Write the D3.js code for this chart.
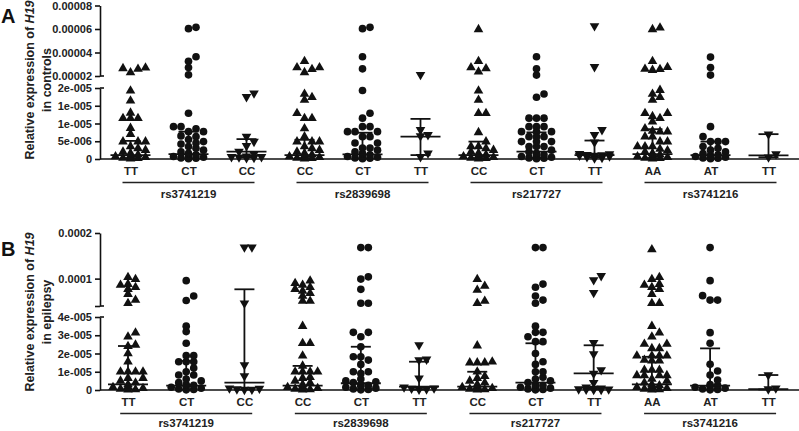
<!DOCTYPE html>
<html><head><meta charset="utf-8">
<script src="https://cdn.jsdelivr.net/npm/d3@7"></script>
<style>
body{margin:0;background:#fff}
svg{display:block;font-family:"Liberation Sans",Arial,sans-serif}
</style>
</head><body>
<svg id="chart" width="799" height="431"></svg>
<script>
// ---------------- DATA ----------------
const genotypes = ["TT","CT","CC","CC","CT","TT","CC","CT","TT","AA","AT","TT"];
const snps = ["rs3741219","rs2839698","rs217727","rs3741216"];
const shapes = ["up","circle","down","up","circle","down","up","circle","down","up","circle","down"];

// Relative expression of H19 in controls (panel A)
const controlsValues = [
  [26e-6,23e-6,27e-6,26.5e-6,19.2e-6,16.4e-6,13e-6,11.5e-6,11.5e-6,11.5e-6,8.7e-6,7e-6,4.9e-6,4.9e-6,4.9e-6,3.5e-6,3e-6,2.5e-6,2e-6,1.6e-6,1.2e-6,1e-6,0.7e-6,0.5e-6,0.3e-6,0.2e-6,0.1e-6],
  [60.3e-6,61.4e-6,36.4e-6,32.5e-6,27.2e-6,21e-6,12.9e-6,9.1e-6,9.1e-6,8.5e-6,7.7e-6,7.7e-6,6.5e-6,6.3e-6,5.5e-6,4.9e-6,4.5e-6,4.2e-6,3.5e-6,3e-6,2.5e-6,2e-6,1.6e-6,1.2e-6,1e-6,0.7e-6,0.5e-6,0.3e-6,0.2e-6,0.1e-6],
  [18.5e-6,17.5e-6,6.3e-6,4.9e-6,3.7e-6,2.1e-6,1.4e-6,0.8e-6,0.6e-6,0.6e-6,0.5e-6,0.4e-6,0.3e-6],
  [32.5e-6,25.8e-6,27.2e-6,23.1e-6,27.2e-6,18.3e-6,17.4e-6,16.6e-6,12.9e-6,11.5e-6,11.5e-6,8.6e-6,6.3e-6,4.9e-6,4.9e-6,4.9e-6,3.5e-6,3e-6,2.5e-6,2e-6,1.6e-6,1.2e-6,1e-6,0.7e-6,0.5e-6,0.3e-6,0.2e-6,0.1e-6],
  [61.4e-6,60.3e-6,36.4e-6,26.1e-6,19.3e-6,12.9e-6,11.5e-6,9.1e-6,9.1e-6,7.7e-6,7.7e-6,7.7e-6,6.3e-6,6.3e-6,4.5e-6,4.5e-6,3.1e-6,3.1e-6,2.5e-6,2e-6,1.6e-6,1.2e-6,1e-6,0.7e-6,0.5e-6,0.3e-6,0.2e-6,0.1e-6],
  [21e-6,8.2e-6,6.8e-6,6.5e-6,1.6e-6,0.6e-6],
  [59.7e-6,32.5e-6,27.2e-6,23.6e-6,26.4e-6,19.2e-6,16.6e-6,12.9e-6,12.9e-6,7.5e-6,4.9e-6,3.5e-6,3.5e-6,3e-6,2.5e-6,2e-6,1.6e-6,1.2e-6,1e-6,0.7e-6,0.5e-6,0.3e-6,0.2e-6,0.1e-6],
  [36.4e-6,26.1e-6,20.8e-6,17.4e-6,18.3e-6,11.5e-6,11.5e-6,11.5e-6,9.1e-6,9.1e-6,9.1e-6,7.7e-6,7.7e-6,7.7e-6,6.3e-6,6.3e-6,6.3e-6,4.9e-6,4.9e-6,4.9e-6,3.5e-6,3.5e-6,3.5e-6,2.5e-6,2e-6,1.6e-6,1.2e-6,1e-6,0.7e-6,0.5e-6,0.3e-6,0.2e-6,0.1e-6],
  [62.5e-6,27.8e-6,8.2e-6,6.8e-6,4.7e-6,1.5e-6,1.4e-6,1.2e-6,1.1e-6,1e-6,1e-6,0.8e-6,0.6e-6,0.4e-6,0.2e-6],
  [61e-6,59.7e-6,32.5e-6,26e-6,27.5e-6,25e-6,25.8e-6,19.4e-6,17.4e-6,18.3e-6,16.6e-6,11.5e-6,12e-6,12.9e-6,12.9e-6,10.5e-6,8.6e-6,7.7e-6,7.9e-6,7.7e-6,6.3e-6,6.3e-6,4.9e-6,4.9e-6,3.5e-6,3.5e-6,3.5e-6,2.8e-6,2.4e-6,2e-6,1.6e-6,1.2e-6,1e-6,0.7e-6,0.5e-6,0.3e-6,0.2e-6,0.1e-6],
  [36.1e-6,27.2e-6,20.8e-6,9.1e-6,6.3e-6,4.9e-6,4.9e-6,4.9e-6,3.5e-6,3e-6,2.5e-6,2e-6,1.5e-6,1.2e-6,1e-6,0.7e-6,0.5e-6,0.3e-6,0.2e-6,0.1e-6],
  [7e-6,1.4e-6,0.5e-6]
];
const controlsMedian = [1.1e-6,1.4e-6,2.1e-6,1.1e-6,1.3e-6,6.3e-6,1.1e-6,2.1e-6,1.1e-6,1.4e-6,1.1e-6,1.0e-6];
const controlsQ3     = [5.1e-6,7.7e-6,5.6e-6,5.4e-6,7.4e-6,11.3e-6,4.9e-6,7.5e-6,5.2e-6,8.4e-6,4.9e-6,7.0e-6];
const controlsQ1     = [0.2e-6,0.2e-6,0.5e-6,0.2e-6,0.2e-6,1.1e-6,0.2e-6,0.3e-6,0.4e-6,0.2e-6,0.2e-6,0.5e-6];

// Relative expression of H19 in epilepsy (panel B)
const epilepsyValues = [
  [98.5e-6,103e-6,88e-6,86e-6,81e-6,77e-6,66e-6,53e-6,46e-6,31.4e-6,29.2e-6,24.7e-6,24e-6,20e-6,15.5e-6,10e-6,10e-6,10e-6,10e-6,6.5e-6,6.5e-6,5e-6,4e-6,3e-6,2e-6,1.5e-6,1e-6,0.6e-6,0.3e-6,0.1e-6],
  [95.5e-6,62e-6,52e-6,35e-6,32e-6,25.6e-6,18.8e-6,18.8e-6,15.5e-6,15.5e-6,15.5e-6,12e-6,10e-6,8.2e-6,8.2e-6,6e-6,5e-6,4e-6,3e-6,2.5e-6,2e-6,1.5e-6,1e-6,0.6e-6,0.3e-6,0.1e-6],
  [168.7e-6,168.7e-6,46e-6,13.7e-6,7.7e-6,1e-6,0.8e-6,0.5e-6,0.3e-6,0.2e-6],
  [95.5e-6,89.7e-6,86e-6,81e-6,77e-6,73e-6,68e-6,62e-6,51e-6,51e-6,35e-6,25.6e-6,25.6e-6,18.8e-6,13.2e-6,10e-6,10e-6,10e-6,10e-6,7e-6,6.5e-6,5e-6,4e-6,3e-6,2e-6,1.5e-6,1e-6,0.6e-6,0.3e-6,0.1e-6],
  [168e-6,168e-6,104e-6,99e-6,76.6e-6,46e-6,46e-6,31.6e-6,31.6e-6,29.2e-6,23.7e-6,18.2e-6,18.2e-6,16.4e-6,14e-6,10e-6,10e-6,9e-6,6e-6,5e-6,4.5e-6,4e-6,3e-6,2.5e-6,2e-6,1.5e-6,1e-6,0.6e-6,0.3e-6,0.1e-6],
  [24.7e-6,16.8e-6,16.4e-6,6.4e-6,1.5e-6,1e-6,0.8e-6,0.5e-6,0.3e-6],
  [98.5e-6,84e-6,75e-6,46e-6,51e-6,24.3e-6,15e-6,15e-6,15.5e-6,15e-6,10e-6,6.5e-6,7.5e-6,5e-6,4e-6,3e-6,2e-6,1.5e-6,1e-6,0.6e-6,0.3e-6,0.1e-6],
  [168e-6,168e-6,88e-6,81e-6,62e-6,46e-6,53e-6,35e-6,31.6e-6,31.6e-6,29.2e-6,26.5e-6,26.5e-6,20e-6,15.5e-6,14e-6,10e-6,10e-6,7e-6,6e-6,5e-6,4e-6,3e-6,2.5e-6,2e-6,1.5e-6,1e-6,0.6e-6,0.3e-6,0.1e-6],
  [106e-6,97e-6,69e-6,25.9e-6,19.7e-6,11e-6,9e-6,4e-6,1.5e-6,1e-6,0.8e-6,0.5e-6,0.4e-6,0.3e-6,0.2e-6,0.1e-6],
  [164e-6,103e-6,98.5e-6,86e-6,88e-6,76.6e-6,81e-6,66e-6,46e-6,46e-6,35e-6,31.4e-6,29.2e-6,25.2e-6,25.2e-6,22.8e-6,22.8e-6,18.8e-6,18.8e-6,18.8e-6,18.8e-6,16e-6,16.4e-6,16e-6,11e-6,11e-6,11e-6,8e-6,8e-6,8e-6,8e-6,6e-6,5e-6,4e-6,3e-6,2.5e-6,2e-6,1.5e-6,1e-6,0.6e-6,0.3e-6,0.1e-6],
  [168e-6,95.5e-6,53e-6,53e-6,62.6e-6,31.4e-6,25.6e-6,14.1e-6,10.4e-6,8.2e-6,5.5e-6,3e-6,2.5e-6,2e-6,1.5e-6,1e-6,0.6e-6,0.3e-6,0.1e-6],
  [8.2e-6,1e-6,0.5e-6]
];
const epilepsyMedian = [3.1e-6,2.4e-6,4.0e-6,2.4e-6,3.7e-6,1.8e-6,1.8e-6,4.0e-6,9.1e-6,3.1e-6,2.4e-6,0.5e-6];
const epilepsyQ3     = [24.1e-6,15.9e-6,76.6e-6,13.2e-6,23.7e-6,15.5e-6,10.0e-6,25.6e-6,24.5e-6,18.2e-6,22.8e-6,8.2e-6];
const epilepsyQ1     = [0.3e-6,0.3e-6,0.3e-6,0.3e-6,0.3e-6,0.3e-6,0.3e-6,0.3e-6,0.5e-6,0.3e-6,0.3e-6,0.3e-6];

// Axis ticks (broken y axes)
const controlsUpperTicks = [2e-5,4e-5,6e-5,8e-5];
const controlsUpperLabels = ["0.00002","0.00004","0.00006","0.00008"];
const controlsLowerTicks = [0,5e-6,1e-5,1.5e-5,2e-5];
const controlsLowerLabels = ["0","5e-006","1e-005","1e-005","2e-005"];
const epilepsyUpperTicks = [4e-5,1e-4,2e-4];
const epilepsyUpperLabels = ["","0.0001","0.0002"];
const epilepsyLowerTicks = [0,1e-5,2e-5,3e-5,4e-5];
const epilepsyLowerLabels = ["0","1e-005","2e-005","3e-005","4e-005"];

// ---------------- DRAWING ----------------
const svg = d3.select("#chart");
const INK = "#111";

const panels = [
  {letter:"A", letterY:23, labelLine2:"in controls", labelCY:80, groupDY:39,
   values:controlsValues, med:controlsMedian, q1:controlsQ1, q3:controlsQ3,
   lowerDomain:[0,2e-5], lowerRange:[159,88], upperDomain:[2e-5,8e-5], upperRange:[76,5.5],
   lowerTicks:controlsLowerTicks, lowerLabels:controlsLowerLabels,
   upperTicks:controlsUpperTicks, upperLabels:controlsUpperLabels,
   xRange:[130.5,768.5]},
  {letter:"B", letterY:256, labelLine2:"in epilepsy", labelCY:312, groupDY:37,
   values:epilepsyValues, med:epilepsyMedian, q1:epilepsyQ1, q3:epilepsyQ3,
   lowerDomain:[0,4e-5], lowerRange:[390,317], upperDomain:[4e-5,2e-4], upperRange:[306,233],
   lowerTicks:epilepsyLowerTicks, lowerLabels:epilepsyLowerLabels,
   upperTicks:epilepsyUpperTicks, upperLabels:epilepsyUpperLabels,
   xRange:[128,768.3]}
];

const axisX = 100;

const symUp = d3.symbol().type(d3.symbolTriangle).size(40)();
const symCircle = d3.symbol().type(d3.symbolCircle).size(46)();

// compact scatter layout: points that share a level spread sideways, at most two slots each side
function swarm(vals, yOf, step, dyMin, maxSlot){
  const pts = vals.map(v => ({v, y:yOf(v)})).sort((a,b) => b.y - a.y);
  const placed = [];
  const slots = [0];
  for (let k = 1; k <= maxSlot; k++){ slots.push(k, -k); }
  for (const p of pts){
    let best = null, bestC = Infinity;
    for (const s of slots){
      const off = s * step;
      const c = placed.filter(q => Math.abs(q.y - p.y) < dyMin && Math.abs(q.off - off) < step*0.9).length;
      if (c < bestC){ bestC = c; best = off; }
      if (c === 0) break;
    }
    p.off = best;
    placed.push(p);
  }
  return placed;
}

panels.forEach(P => {
  const g = svg.append("g");
  const yLow = d3.scaleLinear().domain(P.lowerDomain).range(P.lowerRange);
  const yUp = d3.scaleLinear().domain(P.upperDomain).range(P.upperRange);
  const yOf = v => v <= P.lowerDomain[1] ? yLow(v) : yUp(v);
  const x = d3.scalePoint().domain(d3.range(genotypes.length)).range(P.xRange);
  const base = P.lowerRange[0];

  // panel letter
  g.append("text").attr("x",1).attr("y",P.letterY).attr("font-size",20).attr("font-weight","bold")
    .attr("fill",INK).text(P.letter);

  // y label
  const lab = g.append("g").attr("transform",`translate(0,${P.labelCY}) rotate(-90)`);
  const t1 = lab.append("text").attr("x",0).attr("y",30).attr("dy","0.35em").attr("text-anchor","middle")
    .attr("font-size",12.5).attr("font-weight","bold").attr("fill","#222");
  t1.append("tspan").text("Relative expression of ");
  t1.append("tspan").attr("font-style","italic").text("H19");
  lab.append("text").attr("x",0).attr("y",47).attr("dy","0.35em").attr("text-anchor","middle")
    .attr("font-size",12.5).attr("font-weight","bold").attr("fill","#222").text(P.labelLine2);

  // y axes (two segments)
  const mkAxis = (scale, ticks, labels) => d3.axisLeft(scale).tickValues(ticks)
    .tickFormat((d,i) => labels[i]).tickSize(5).tickSizeOuter(0).tickPadding(3);
  [[yLow,P.lowerTicks,P.lowerLabels],[yUp,P.upperTicks,P.upperLabels]].forEach(([s,t,l]) => {
    const ax = g.append("g").attr("transform",`translate(${axisX},0)`).call(mkAxis(s,t,l));
    ax.select(".domain").attr("stroke",INK).attr("stroke-width",1.6);
    ax.selectAll(".tick line").attr("stroke",INK).attr("stroke-width",1.6);
    ax.selectAll(".tick text").attr("font-size",11).attr("font-weight","bold").attr("fill","#222")
      .attr("font-family","'Liberation Sans',Arial,sans-serif");
  });
  // break marks
  g.append("line").attr("x1",axisX).attr("x2",axisX+4).attr("y1",P.upperRange[0]).attr("y2",P.upperRange[0])
    .attr("stroke",INK).attr("stroke-width",1.6);
  g.append("line").attr("x1",axisX).attr("x2",axisX+4).attr("y1",P.lowerRange[1]).attr("y2",P.lowerRange[1])
    .attr("stroke",INK).attr("stroke-width",1.6);

  // x baseline
  g.append("line").attr("x1",axisX).attr("x2",799).attr("y1",base).attr("y2",base)
    .attr("stroke",INK).attr("stroke-width",1.6);

  // category labels
  const xa = g.append("g").attr("transform",`translate(0,${base})`)
    .call(d3.axisBottom(x).tickSize(0).tickPadding(8).tickFormat(i => genotypes[i]));
  xa.select(".domain").remove();
  xa.selectAll(".tick text").attr("font-size",11.5).attr("font-weight","bold").attr("fill","#222")
    .attr("font-family","'Liberation Sans',Arial,sans-serif");

  // SNP group lines + labels
  snps.forEach((s,gi) => {
    const cx = (x(gi*3) + x(gi*3+2)) / 2;
    g.append("line").attr("x1",cx-66).attr("x2",cx+66).attr("y1",base+23.5).attr("y2",base+23.5)
      .attr("stroke","#222").attr("stroke-width",1.3);
    g.append("text").attr("x",cx).attr("y",base+P.groupDY).attr("text-anchor","middle")
      .attr("font-size",11.5).attr("font-weight","bold").attr("fill","#222").text(s);
  });

  // points
  P.values.forEach((vals,i) => {
    const cx = x(i);
    const pts = swarm(vals, yOf, 7.5, 5, 2);
    const sh = shapes[i];
    g.append("g").selectAll("path").data(pts).join("path")
      .attr("d", sh === "circle" ? symCircle : symUp)
      .attr("transform", d => `translate(${cx + d.off},${d.y})` + (sh === "down" ? " rotate(180)" : ""))
      .attr("fill", INK);
  });

  // median + interquartile bars
  genotypes.forEach((_,i) => {
    const cx = x(i);
    const bar = g.append("g").attr("stroke",INK).attr("stroke-width",1.8);
    bar.append("line").attr("x1",cx).attr("x2",cx).attr("y1",yOf(P.q1[i])).attr("y2",yOf(P.q3[i]));
    bar.append("line").attr("x1",cx-10).attr("x2",cx+10).attr("y1",yOf(P.q3[i])).attr("y2",yOf(P.q3[i]));
    bar.append("line").attr("x1",cx-10).attr("x2",cx+10).attr("y1",yOf(P.q1[i])).attr("y2",yOf(P.q1[i]));
    bar.append("line").attr("x1",cx-20).attr("x2",cx+20).attr("y1",yOf(P.med[i])).attr("y2",yOf(P.med[i]));
  });
});
</script>
</body></html>
